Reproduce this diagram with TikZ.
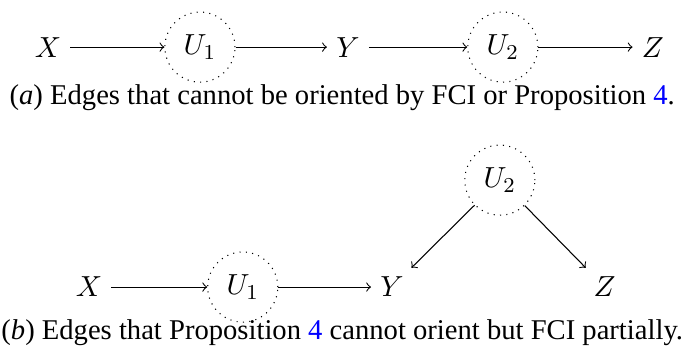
\documentclass[tikz,border=0pt]{standalone}
\usepackage[no-math]{fontspec}
\setmainfont{Liberation Serif}
\usepackage{xcolor}
\usepackage{tikz}

\begin{document}
\begin{tikzpicture}[font=\fontsize{10.8}{13}\selectfont,
        latent/.style={circle, draw, dotted, minimum size=0.93cm, inner sep=0pt}]
        \useasboundingbox (0,0) rectangle (9.06,4.63);
        % (a) chain
        \node (xa) at (0.636,4.005) {$X$};
        \node[latent] (u1a) at (2.652,4.005) {$U_1$};
        \node (ya) at (4.615,4.005) {$Y$};
        \node[latent] (u2a) at (6.67,4.005) {$U_2$};
        \node (za) at (8.66,4.005) {$Z$};
        
        \draw[->] (xa) -- (u1a);
        \draw[->] (u1a) -- (ya);
        \draw[->] (ya) -- (u2a);
        \draw[->] (u2a) -- (za);
        
        \node[anchor=base] (capa) at (4.54,3.25) {(\textit{a}) Edges that cannot be oriented by FCI or Proposition \textcolor{blue}{4}.};
        
        % (b) fork
        \node (xb) at (1.18,0.822) {$X$};
        \node[latent] (u1b) at (3.22,0.822) {$U_1$};
        \node (yb) at (5.20,0.822) {$Y$};
        \node[latent] (u2b) at (6.63,2.24) {$U_2$};
        \node (zb) at (8.02,0.822) {$Z$};
        
        \draw[->] (xb) -- (u1b);
        \draw[->] (u1b) -- (yb);
        \draw[->] (u2b) -- (yb);
        \draw[->] (u2b) -- (zb);
        
        \node[anchor=base] (capb) at (4.54,0.12) {(\textit{b}) Edges that Proposition \textcolor{blue}{4} cannot orient but FCI partially.};
    \end{tikzpicture}
\end{document}
